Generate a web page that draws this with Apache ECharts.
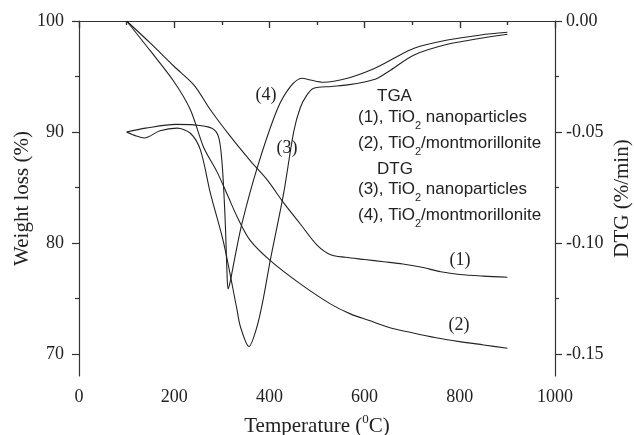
<!DOCTYPE html>
<html>
<head>
<meta charset="utf-8">
<script src="https://cdn.jsdelivr.net/npm/echarts@6/dist/echarts.min.js"></script>
<style>
html, body { margin: 0; padding: 0; background: #fff; }
#main { width: 634px; height: 435px; }
</style>
</head>
<body>
<div id="main"></div>
<script>
// TGA (1), TiO2 nanoparticles  -- weight loss (%)
var tga1Temp = [100, 150, 200, 242, 276, 318, 360, 395, 430, 465, 500, 530, 560, 600, 640, 680, 720, 760, 800, 850, 900];
var tga1Val  = [100, 98.0, 95.9, 94.2, 92.0, 89.6, 87.4, 85.7, 83.6, 81.7, 79.8, 78.9, 78.7, 78.5, 78.3, 78.1, 77.8, 77.4, 77.15, 77.0, 76.9];

// TGA (2), TiO2/montmorillonite
var tga2Temp = [100, 150, 200, 234, 262, 290, 311, 335, 360, 402, 465, 528, 570, 610, 650, 700, 750, 800, 850, 900];
var tga2Val  = [100, 97.3, 94.5, 92.0, 88.6, 86.4, 84.4, 82.1, 80.2, 78.4, 76.3, 74.5, 73.6, 73.0, 72.4, 71.9, 71.45, 71.1, 70.8, 70.5];

// DTG (3), TiO2 nanoparticles  -- %/min
var dtg3Temp = [100, 120, 137, 170, 206, 234, 255, 276, 304, 332, 339, 357, 374, 388, 402, 430, 451, 465, 479, 493, 530, 564, 600, 627, 655, 704, 774, 844, 900];
var dtg3Val  = [-0.050, -0.0518, -0.0527, -0.0495, -0.0483, -0.0506, -0.0581, -0.0776, -0.1001, -0.1302, -0.1377, -0.1467, -0.1377, -0.1242, -0.1077, -0.0776, -0.050, -0.039, -0.0333, -0.0303, -0.0295, -0.0288, -0.0275, -0.0258, -0.0221, -0.0153, -0.0105, -0.0078, -0.006];

// DTG (4), TiO2/montmorillonite
var dtg4Temp = [100, 140, 203, 241, 279, 293, 300, 305, 308, 311, 313, 316, 320, 328, 342, 374, 416, 444, 469, 486, 514, 564, 613, 655, 704, 774, 844, 900];
var dtg4Val  = [-0.050, -0.0483, -0.0466, -0.0468, -0.0483, -0.0521, -0.0626, -0.080, -0.095, -0.114, -0.1207, -0.119, -0.115, -0.106, -0.0915, -0.0664, -0.0401, -0.0296, -0.0258, -0.0266, -0.0276, -0.0258, -0.0221, -0.0176, -0.0123, -0.0086, -0.0063, -0.0051];

// tick values
var leftTicks = [70, 80, 90, 100];
var leftMinor = [75, 85, 95];
var rightTicks = [-0.15, -0.10, -0.05, 0];
var rightMinor = [-0.125, -0.075, -0.025];

var serif = '"Liberation Serif", "Times New Roman", serif';
var sans = '"Liberation Sans", Arial, sans-serif';
var ink = '#222';
var axisColor = '#333';

function pairs(xs, ys) {
    return xs.map(function (x, i) { return [x, ys[i]]; });
}

function curve(name, xs, ys, yIdx) {
    return {
        name: name,
        type: 'line',
        xAxisIndex: 0,
        yAxisIndex: yIdx,
        data: pairs(xs, ys),
        symbol: 'none',
        showSymbol: false,
        smooth: 0.3,
        lineStyle: { color: ink, width: 1.1 },
        silent: true
    };
}

var chart = echarts.init(document.getElementById('main'));

var tickLabel = { fontFamily: serif, fontSize: 18, color: ink };

var option = {
    animation: false,
    backgroundColor: '#fff',
    grid: { left: 79, right: 79, top: 21, bottom: 59, containLabel: false, outerBoundsMode: 'none' },
    xAxis: [
        {
            type: 'value', position: 'bottom', min: 0, max: 1000, interval: 200,
            axisLine: { show: true, lineStyle: { color: axisColor, width: 1.2 } },
            axisTick: { show: true, length: 7, lineStyle: { color: axisColor, width: 1.2 } },
            minorTick: { show: true, splitNumber: 2, length: 4, lineStyle: { color: axisColor, width: 1.2 } },
            axisLabel: Object.assign({ margin: 12, formatter: function (v) { return String(v); } }, tickLabel),
            splitLine: { show: false },
            name: 'Temperature ({sup|0}C)',
            nameLocation: 'middle',
            nameGap: 37,
            nameMoveOverlap: false,
            nameTextStyle: {
                fontFamily: serif, fontSize: 21, color: ink, lineHeight: 26,
                rich: { sup: { fontFamily: serif, fontSize: 13, lineHeight: 13, color: ink, verticalAlign: 'top' } }
            }
        },
        {
            type: 'value', position: 'top', min: 0, max: 1000, interval: 200,
            axisLine: { show: true, lineStyle: { color: axisColor, width: 1.2 } },
            axisTick: { show: true, inside: true, length: 7, lineStyle: { color: axisColor, width: 1.2 } },
            minorTick: { show: true, splitNumber: 2, length: 4, lineStyle: { color: axisColor, width: 1.2 } },
            axisLabel: { show: false },
            splitLine: { show: false }
        }
    ],
    yAxis: [
        {
            type: 'value', position: 'left', min: 68, max: 100,
            axisLine: { show: true, lineStyle: { color: axisColor, width: 1.2 } },
            axisTick: { show: true, length: 7, customValues: leftTicks, lineStyle: { color: axisColor, width: 1.2 } },
            axisLabel: Object.assign({ margin: 15, customValues: leftTicks }, tickLabel),
            splitLine: { show: false },
            name: 'Weight loss (%)',
            nameLocation: 'middle',
            nameGap: 46,
            nameMoveOverlap: false,
            nameTextStyle: { fontFamily: serif, fontSize: 21, color: ink }
        },
        {
            type: 'value', position: 'left', min: 68, max: 100,
            axisLine: { show: false },
            axisTick: { show: true, length: 4, customValues: leftMinor, lineStyle: { color: axisColor, width: 1.2 } },
            axisLabel: { show: false },
            splitLine: { show: false }
        },
        {
            type: 'value', position: 'right', min: -0.16, max: 0,
            axisLine: { show: true, lineStyle: { color: axisColor, width: 1.2 } },
            axisTick: { show: true, length: 7, customValues: rightTicks, lineStyle: { color: axisColor, width: 1.2 } },
            axisLabel: Object.assign({
                margin: 11, customValues: rightTicks,
                formatter: function (v) { return v.toFixed(2); }
            }, tickLabel),
            splitLine: { show: false },
            name: 'DTG (%/min)',
            nameLocation: 'middle',
            nameGap: 57,
            nameRotate: 90,
            nameMoveOverlap: false,
            nameTextStyle: { fontFamily: serif, fontSize: 21, color: ink }
        },
        {
            type: 'value', position: 'right', min: -0.16, max: 0,
            axisLine: { show: false },
            axisTick: { show: true, length: 4, customValues: rightMinor, lineStyle: { color: axisColor, width: 1.2 } },
            axisLabel: { show: false },
            splitLine: { show: false }
        }
    ],
    series: [
        curve('(1)', tga1Temp, tga1Val, 0),
        curve('(2)', tga2Temp, tga2Val, 0),
        curve('(3)', dtg3Temp, dtg3Val, 2),
        curve('(4)', dtg4Temp, dtg4Val, 2)
    ]
};

chart.setOption(option);

// curve labels and the key text block
var subStyle = { sub: { fontFamily: sans, fontSize: 11, lineHeight: 10, fill: ink, verticalAlign: 'bottom' } };

function note(text, x, y) {
    return {
        type: 'text', silent: true,
        style: { text: text, x: x, y: y, font: '18px ' + serif, fill: ink, textAlign: 'center', textVerticalAlign: 'middle' }
    };
}

function keyRow(text, x, y) {
    return {
        type: 'text', silent: true,
        style: {
            text: text, x: x, y: y, font: '17px ' + sans, fill: ink, lineHeight: 28,
            textAlign: 'left', textVerticalAlign: 'middle', rich: subStyle
        }
    };
}

chart.setOption({
    graphic: [
        note('(1)', 460, 260),
        note('(2)', 459, 325),
        note('(3)', 287, 148),
        note('(4)', 266, 95),
        keyRow('TGA', 377, 96),
        keyRow('(1), TiO{sub|2} nanoparticles', 358, 117),
        keyRow('(2), TiO{sub|2}/montmorillonite', 358, 143),
        keyRow('DTG', 377, 169),
        keyRow('(3), TiO{sub|2} nanoparticles', 358, 189),
        keyRow('(4), TiO{sub|2}/montmorillonite', 358, 215)
    ]
});
</script>
</body>
</html>
